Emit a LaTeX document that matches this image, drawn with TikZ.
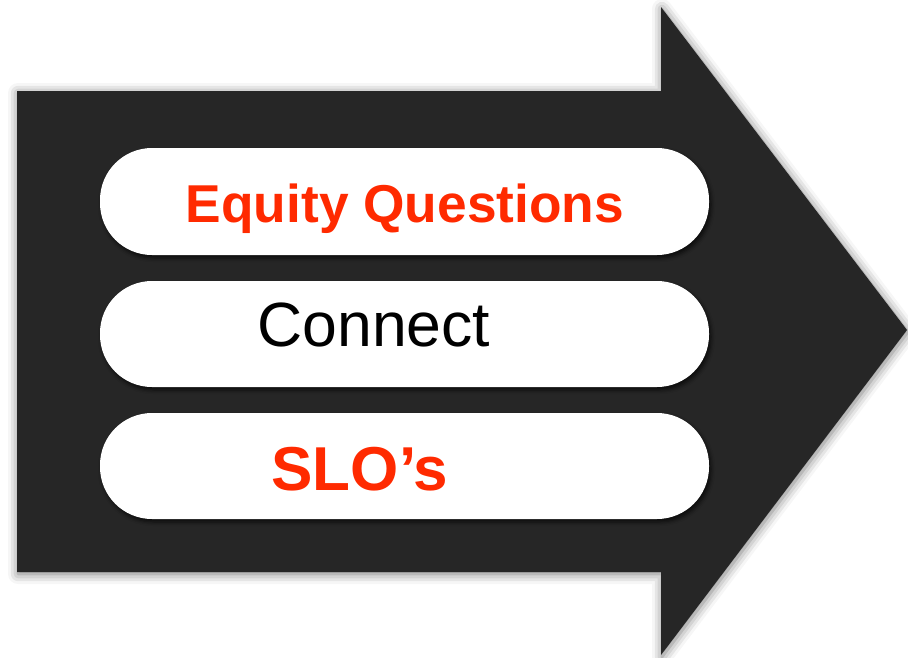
\documentclass[tikz,border=0pt]{standalone}
\usepackage{fontspec}
\setmainfont{Liberation Sans}
\usetikzlibrary{shadows.blur}
\definecolor{arrowdark}{HTML}{262626}
\definecolor{labelred}{HTML}{FF2A00}
\tikzset{
  bigarrow/.style={fill=arrowdark, blur shadow={shadow xshift=1pt, shadow yshift=-2pt, shadow blur radius=10pt, shadow opacity=55}},
  pill/.style={fill=white, draw=none, rounded corners=52pt, minimum width=609pt, inner sep=0pt,
    blur shadow={shadow xshift=2pt, shadow yshift=-3pt, shadow blur radius=4pt, shadow opacity=70}},
  lbl/.style={anchor=base, inner sep=0pt}
}
\begin{document}
\begin{tikzpicture}[x=1pt,y=-1pt]
\useasboundingbox (0,0) rectangle (908,657);
\fill[bigarrow] (17,91) -- (661,91) -- (661,7) -- (907,330) -- (661,655) -- (661,572) -- (17,572) -- cycle;
\node[pill, minimum height=107pt] (p1) at (404.5,201.5) {};
\node[pill, minimum height=106pt] (p2) at (404.5,334) {};
\node[pill, minimum height=106pt] (p3) at (404.5,466) {};
\node[lbl, text=labelred, font=\bfseries\fontsize{53.3}{53.3}\selectfont] (eq) at (405,222) {Equity Questions};
\node[lbl, text=black, font=\fontsize{62.5}{62.5}\selectfont] (cn) at (374,346) {Connect};
\node[lbl, text=labelred, font=\bfseries\fontsize{62}{62}\selectfont] (slo) at (360,490) {SLO’s};
\end{tikzpicture}
\end{document}
